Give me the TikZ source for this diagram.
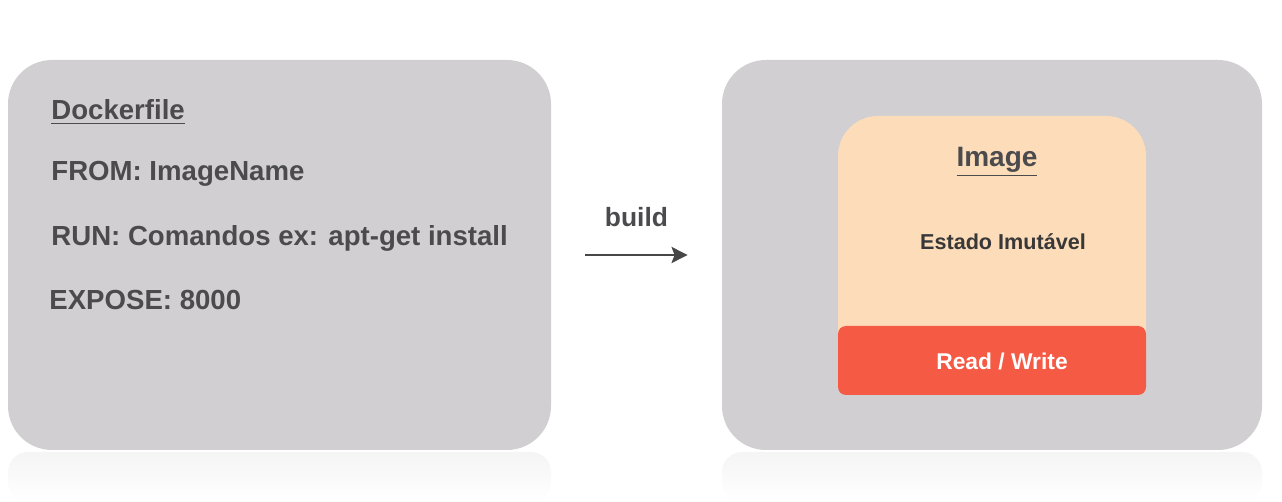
\documentclass[tikz,border=0pt]{standalone}
\usepackage{fontspec}
\setmainfont{Liberation Sans}
\usetikzlibrary{arrows.meta, positioning}

\definecolor{boxgrey}{HTML}{D1CFD2}
\definecolor{imgorange}{HTML}{FCDCB9}
\definecolor{rwred}{HTML}{F55A45}
\definecolor{txtgrey}{HTML}{4B4A4D}

\begin{document}
\begin{tikzpicture}[x=0.5pt, y=-0.5pt, font=\bfseries, text=txtgrey,
	panel/.style={fill=boxgrey, rounded corners=22pt, minimum height=195pt},
	line/.style={anchor=west, inner sep=0pt, font=\bfseries\fontsize{13.8}{16}\selectfont}]
	\useasboundingbox (0,0) rectangle (1282,502);
	
	% reflections
	\shade[top color=black!4, bottom color=white, rounded corners=10pt] (8,452) rectangle (551,502);
	\shade[top color=black!4, bottom color=white, rounded corners=10pt] (722,452) rectangle (1262,502);
	
	\node[panel, minimum width=271.5pt] (dockerbox) at (279.5,255) {};
	\node[panel, minimum width=270pt] (hostbox) at (992,255) {};
	
	\node[line] (dockerfile) at (51,112) {\underline{Dockerfile}};
	\node[line, below=31pt of dockerfile.west, anchor=west] (from) {FROM: ImageName};
	\node[line, below=32pt of from.west, anchor=west] (run) {RUN: Comandos ex: apt-get install};
	\node[line, below=31pt of run.west, anchor=west, xshift=-1pt] (expose) {EXPOSE: 8000};
	
	\node[fill=imgorange, rounded corners=20pt, minimum width=154pt, minimum height=139.5pt] (image) at (992,255.5) {};
	\node[fill=rwred, rounded corners=4pt, minimum width=154pt, minimum height=34.5pt] (rw) at (992,360.5) {};
	\node[text=white, font=\bfseries\fontsize{11.4}{14}\selectfont] (rwlabel) at (1002,361) {Read / Write};
	\node[font=\bfseries\fontsize{14}{16}\selectfont] (imagetitle) at (997,162) {\underline{Image}};
	\node[font=\bfseries\fontsize{10.8}{13}\selectfont, text=black!78] (estado) at (1003,242) {Estado Imutável};
	
	\draw[-{Stealth[length=8pt, width=8pt, inset=1.5pt]}, line width=1.3pt, draw=black!72,
		shorten <=17pt, shorten >=17pt] (dockerbox) -- node[above=10pt, font=\bfseries\fontsize{13.2}{16}\selectfont] (build) {build} (hostbox);
\end{tikzpicture}
\end{document}
